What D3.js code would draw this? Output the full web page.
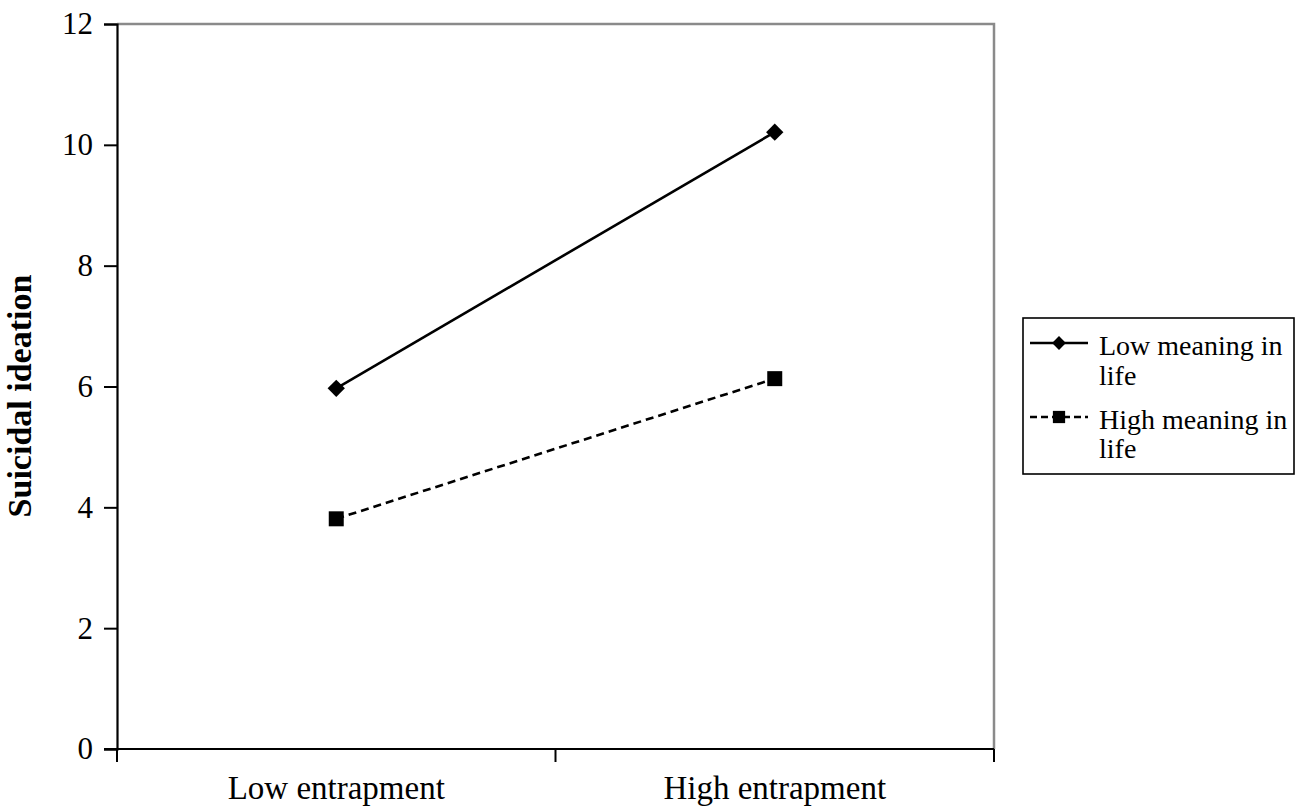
<!DOCTYPE html>
<html><head><meta charset="utf-8">
<script src="https://cdn.jsdelivr.net/npm/d3@7"></script>
<style>body{margin:0;background:#fff}svg{display:block}svg text{font-family:"Liberation Serif","Times New Roman",serif !important;fill:#000}</style>
</head><body><svg id="c" width="1295" height="809"></svg>
<script>
const categories = ["Low entrapment", "High entrapment"];
const seriesNames = ["Low meaning in life", "High meaning in life"];
const lowMeaning = [5.97, 10.21];
const highMeaning = [3.81, 6.13];
const yTicks = [0, 2, 4, 6, 8, 10, 12];
const legendLines = [["Low meaning in", "life"], ["High meaning in", "life"]];

const svg = d3.select("#c");
const L = 117, R = 994, T = 24, B = 749;
const x = d3.scaleBand().domain(categories).range([L, R]).padding(0);
const y = d3.scaleLinear().domain([0, 12]).range([B, T]);
const cx = c => x(c) + x.bandwidth() / 2;

// plot border top/right (gray)
svg.append("path").attr("d", `M${L},${T}H${R}V${B}`).attr("fill", "none").attr("stroke", "#8a8a8a").attr("stroke-width", 2.5);

// y axis
const yAxis = d3.axisLeft(y).tickValues(yTicks).tickSize(13).tickPadding(10).tickFormat(d3.format("d"));
const gy = svg.append("g").attr("transform", `translate(${L},0)`).call(yAxis);
gy.attr("font-family", null);
gy.select(".domain").attr("stroke", "#000").attr("stroke-width", 2.2);
gy.selectAll(".tick line").attr("stroke", "#000").attr("stroke-width", 2);
gy.selectAll(".tick text").attr("font-size", 31).attr("x", -24);

// x axis
svg.append("line").attr("x1", L - 13).attr("x2", R).attr("y1", B).attr("y2", B).attr("stroke", "#000").attr("stroke-width", 2.2);
const bounds = [x(categories[0]), x(categories[1]), x(categories[1]) + x.bandwidth()];
svg.selectAll(".xt").data(bounds).join("line").attr("x1", d => d).attr("x2", d => d)
  .attr("y1", B).attr("y2", B + 13).attr("stroke", "#000").attr("stroke-width", 2);
svg.selectAll(".xl").data(categories).join("text").attr("x", d => cx(d)).attr("y", 799)
  .attr("text-anchor", "middle").attr("font-size", 33).text(d => d);

// y title
svg.append("text").attr("transform", "translate(31,396) rotate(-90)").attr("text-anchor", "middle")
  .attr("font-size", 34).attr("font-weight", "bold").text("Suicidal ideation");

const line = d3.line().x((d, i) => cx(categories[i])).y(d => y(d));
svg.append("path").datum(lowMeaning).attr("d", line).attr("fill", "none").attr("stroke", "#000").attr("stroke-width", 2.6);
svg.append("path").datum(highMeaning).attr("d", line).attr("fill", "none").attr("stroke", "#000").attr("stroke-width", 2.6).attr("stroke-dasharray", "8,5");

svg.selectAll(".dm").data(lowMeaning).join("path")
  .attr("transform", (d, i) => `translate(${cx(categories[i])},${y(d)}) rotate(45)`)
  .attr("d", d3.symbol().type(d3.symbolSquare).size(150)).attr("fill", "#000");
svg.selectAll(".sq").data(highMeaning).join("path")
  .attr("transform", (d, i) => `translate(${cx(categories[i])},${y(d)})`)
  .attr("d", d3.symbol().type(d3.symbolSquare).size(225)).attr("fill", "#000");

// legend
const lg = svg.append("g");
lg.append("rect").attr("x", 1023).attr("y", 318).attr("width", 271).attr("height", 156).attr("fill", "#fff").attr("stroke", "#000").attr("stroke-width", 1.6);
const ly = [343, 417];
lg.append("line").attr("x1", 1030).attr("x2", 1088).attr("y1", ly[0]).attr("y2", ly[0]).attr("stroke", "#000").attr("stroke-width", 2.4);
lg.append("path").attr("transform", `translate(1059,${ly[0]}) rotate(45)`).attr("d", d3.symbol().type(d3.symbolSquare).size(95)).attr("fill", "#000");
lg.append("line").attr("x1", 1030).attr("x2", 1088).attr("y1", ly[1]).attr("y2", ly[1]).attr("stroke", "#000").attr("stroke-width", 2.4).attr("stroke-dasharray", "7,4");
lg.append("path").attr("transform", `translate(1059,${ly[1]})`).attr("d", d3.symbol().type(d3.symbolSquare).size(150)).attr("fill", "#000");
const baselines = [[355, 385], [429, 458]];
legendLines.forEach((ls, i) => ls.forEach((t, j) => {
  lg.append("text").attr("x", 1099).attr("y", baselines[i][j]).attr("font-size", 28).text(t);
}));
</script></body></html>
